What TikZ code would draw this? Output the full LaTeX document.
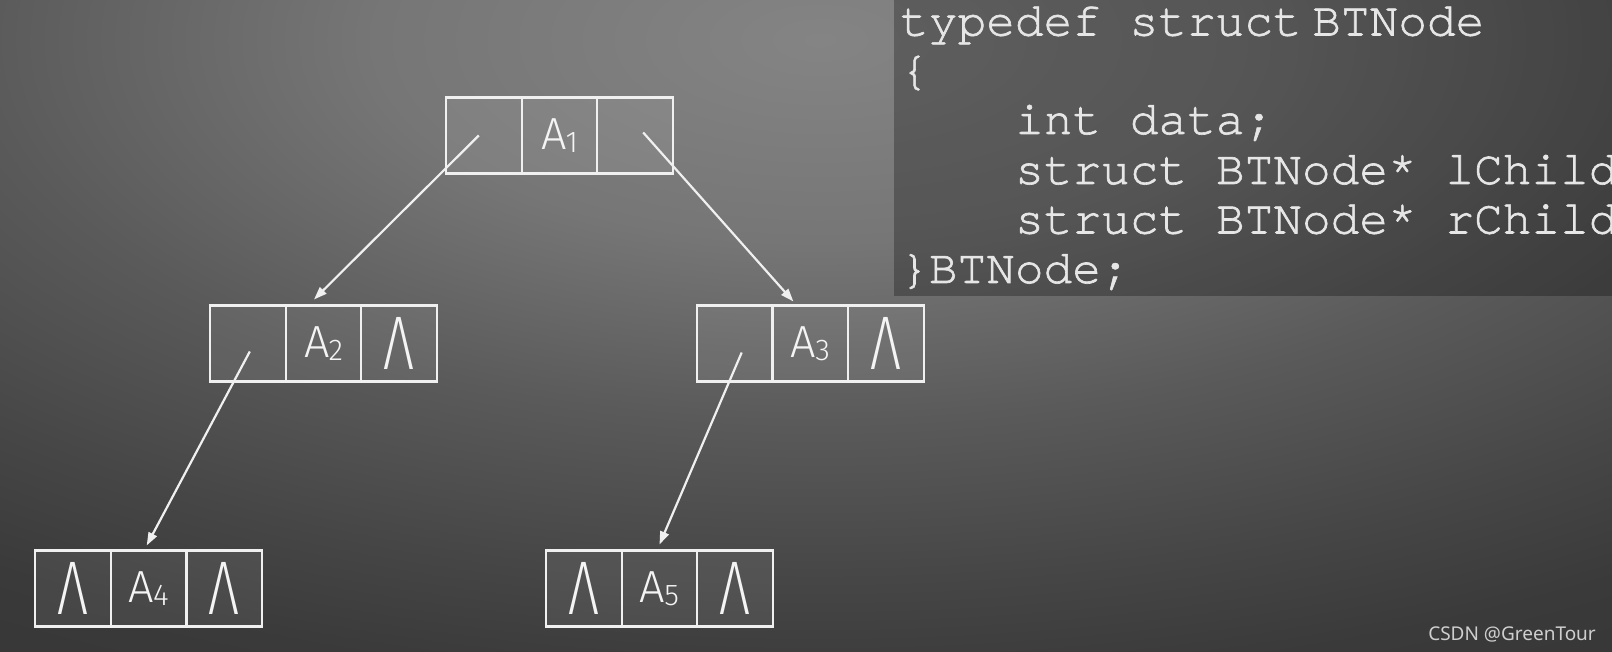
\documentclass[tikz,border=0pt]{standalone}
\usepackage{fontspec}
\usepackage{graphicx}
\usetikzlibrary{arrows.meta,calc}
\IfFontExistsTF{texgyrecursor-regular.otf}{\newfontfamily\codefont{texgyrecursor-regular.otf}[FakeBold=1.3]}{\newfontfamily\codefont{Liberation Mono}}
\newfontfamily\wmfont{Noto Sans}
\IfFontExistsTF{Fira Sans Light}{\newfontfamily\labfont{Fira Sans Light}}{\newfontfamily\labfont{Liberation Sans}}
\definecolor{bgA}{HTML}{848484}
\definecolor{bgB}{HTML}{767676}
\definecolor{bgC}{HTML}{5A5A5A}
\definecolor{bgD}{HTML}{464646}
\definecolor{bgE}{HTML}{3A3A3A}
\definecolor{bgF}{HTML}{363636}
\definecolor{boxc}{HTML}{F0F0F0}
\definecolor{labc}{HTML}{F4F4F4}
\definecolor{codec}{HTML}{E6E6E6}
\definecolor{wmc}{HTML}{CFCFCF}
\pgfdeclareradialshading{bgshade}{\pgfpoint{0bp}{0bp}}{color(0bp)=(bgA); color(5.6bp)=(bgB); color(10.6bp)=(bgC); color(15bp)=(bgD); color(18bp)=(bgE); color(21bp)=(bgF); color(50bp)=(bgF)}
\newcommand{\Alab}[1]{{\labfont\fontsize{45}{45}\selectfont A\kern-1pt\raisebox{-3pt}{\fontsize{30}{30}\selectfont #1}}}
\newcommand{\nullmark}{{\labfont\fontsize{76}{76}\selectfont\scalebox{0.72}[1]{Λ}}}
\begin{document}
\begin{tikzpicture}[x=1pt,y=-1pt,
  cell/.style={draw=boxc, line width=2.2pt, fill=white, fill opacity=0.07, text opacity=1, minimum width=75.7pt, minimum height=76pt, inner sep=0pt, outer sep=0pt, text=labc},
  ptr/.style={draw=boxc, line width=2.2pt, -{Triangle[length=13pt,width=9pt]}},
  code/.style={anchor=base west, inner sep=0pt, text=codec, font=\codefont\fontsize{47.8}{50}\selectfont}
]
\useasboundingbox (0,0) rectangle (1612,652);
\begin{scope}
  \clip (0,0) rectangle (1612,652);
  \shade[shading=bgshade] (820,40) ellipse [x radius=1980, y radius=900];
\end{scope}
% code panel
\fill[black, opacity=0.275] (894,0) rectangle (1612,296);
\begin{scope}
  \clip (894,0) rectangle (1612,296);
  \node[code] (c1) at (900,35.5) {typedef struct\hspace{0.22em}BTNode};
  \node[code] (c2) at (900,84.5) {\{};
  \node[code] (c3) at (1015,134) {int data;};
  \node[code] (c4) at (1015,184) {struct BTNode* lChild};
  \node[code] (c5) at (1015,233.5) {struct BTNode* rChild};
  \node[code] (c6) at (900,283) {\}BTNode;};
\end{scope}
% A1
\node[cell] (a1l) at (483.8,135.5) {};
\node[cell] (a1m) at (559.5,135.5) {\Alab{1}};
\node[cell] (a1r) at (635.2,135.5) {};
% A2
\node[cell] (a2l) at (247.8,343.5) {};
\node[cell] (a2m) at (323.5,343.5) {\Alab{2}};
\node[cell] (a2r) at (399.2,343.5) {\nullmark};
% A3
\node[cell] (a3l) at (734.7,343.5) {};
\node[cell] (a3m) at (810.4,343.5) {\Alab{3}};
\node[cell] (a3r) at (886.1,343.5) {\nullmark};
% A4
\node[cell] (a4l) at (73,588.5) {\nullmark};
\node[cell] (a4m) at (148.7,588.5) {\Alab{4}};
\node[cell] (a4r) at (224.4,588.5) {\nullmark};
% A5
\node[cell] (a5l) at (583.8,588.5) {\nullmark};
\node[cell] (a5m) at (659.5,588.5) {\Alab{5}};
\node[cell] (a5r) at (735.2,588.5) {\nullmark};
% pointer coordinates
\coordinate (s1) at ($(a1l)+(-5,0)$);
\coordinate (e1) at ($(a2m.north)+(-9.5,-6)$);
\coordinate (s2) at ($(a1r)+(8,-3)$);
\coordinate (e2) at ($(a3m.north)+(-17,-4)$);
\coordinate (s3) at ($(a2l)+(2,8)$);
\coordinate (e3) at ($(a4m.north)+(-2,-5)$);
\coordinate (s4) at ($(a3l)+(7,9)$);
\coordinate (e4) at ($(a5m.north)+(0,-6)$);
\draw[ptr] (s1) -- (e1);
\draw[ptr] (s2) -- (e2);
\draw[ptr] (s3) -- (e3);
\draw[ptr] (s4) -- (e4);
% watermark
\node[anchor=base east, inner sep=0pt, text=wmc, font=\wmfont\fontsize{19}{19}\selectfont] (wm) at (1596,640) {CSDN @GreenTour};
\end{tikzpicture}
\end{document}
